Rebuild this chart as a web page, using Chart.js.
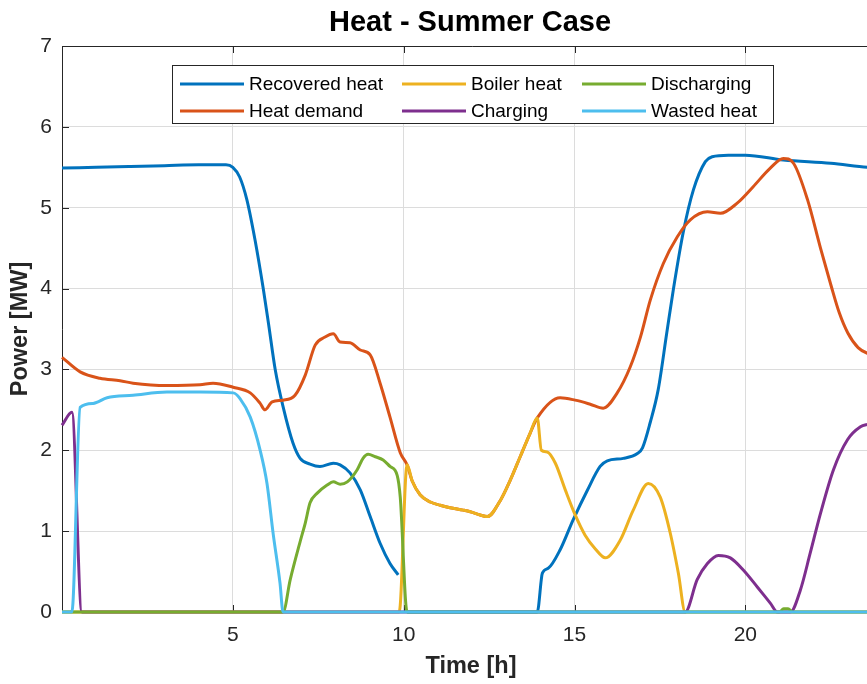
<!DOCTYPE html>
<html>
<head>
<meta charset="utf-8">
<title>Heat - Summer Case</title>
<script src="https://cdn.jsdelivr.net/npm/chart.js@4.4.1/dist/chart.umd.min.js"></script>
<style>
  html, body { margin: 0; padding: 0; background: #ffffff; overflow: hidden; }
  #wrap { position: absolute; left: 0; top: 0; width: 884px; height: 684px; }
</style>
</head>
<body>
<div id="wrap"><canvas id="chart" width="884" height="684"></canvas></div>
<script>
// Time axis ticks [h] and power axis ticks [MW]
const timeTicks = [5, 10, 15, 20];
const powerTicks = [0, 1, 2, 3, 4, 5, 6, 7];

// Recovered heat
const recoveredT = [0, 1, 2, 3, 4, 4.8, 5.0, 5.2, 5.41, 5.65, 5.89, 6.05, 6.24, 6.47, 6.76, 6.97, 7.26, 7.55, 7.94, 8.14, 8.43, 8.73, 9.02, 9.31, 9.60, 9.84,
  null,
  10.1, 12, 13.91, 14.06, 14.23, 14.58, 14.96, 15.37, 15.75, 15.96, 16.43, 16.84, 16.99, 17.22, 17.45, 17.70, 17.89, 18.18, 18.48, 18.83, 19.03, 19.5, 20, 21.11, 22.5, 23.57, 24];
const recoveredP = [5.49, 5.50, 5.51, 5.52, 5.53, 5.53, 5.50, 5.38, 5.10, 4.60, 4.00, 3.55, 3.00, 2.54, 2.09, 1.90, 1.83, 1.80, 1.84, 1.82, 1.72, 1.51, 1.18, 0.85, 0.60, 0.46,
  null,
  0, 0, 0, 0.48, 0.54, 0.77, 1.14, 1.50, 1.80, 1.87, 1.90, 1.96, 2.03, 2.35, 2.75, 3.45, 3.98, 4.69, 5.22, 5.57, 5.63, 5.65, 5.65, 5.59, 5.55, 5.50, 5.49];

// Heat demand
const demandT = [0, 0.53, 1.11, 1.70, 2.08, 3.07, 4.04, 4.42, 5.01, 5.51, 5.80, 5.94, 6.15, 6.47, 6.82, 7.12, 7.41, 7.70, 7.94, 8.14, 8.43, 8.73, 9.02, 9.31, 9.60, 9.90, 10.10,
  10.25, 10.48, 10.78, 11.07, 11.36, 11.74, 11.95, 12.24, 12.45, 12.83, 13.12, 13.41, 13.70, 13.91,
  14.58, 15.02, 15.46, 15.84, 16.25, 16.63, 16.93, 17.22, 17.60, 18.01, 18.39, 18.89, 19.27, 19.77, 20.23, 20.73, 21.11, 21.41, 21.82, 22.20, 22.50, 22.75, 23.00, 23.30, 23.57, 24];
const demandP = [3.15, 2.97, 2.89, 2.86, 2.83, 2.80, 2.81, 2.83, 2.78, 2.71, 2.58, 2.50, 2.60, 2.62, 2.68, 2.93, 3.30, 3.40, 3.44, 3.34, 3.33, 3.24, 3.18, 2.83, 2.41, 1.97, 1.82,
  1.62, 1.45, 1.36, 1.32, 1.29, 1.26, 1.24, 1.20, 1.18, 1.38, 1.63, 1.92, 2.21, 2.40,
  2.65, 2.62, 2.57, 2.52, 2.71, 3.03, 3.40, 3.86, 4.31, 4.64, 4.85, 4.95, 4.93, 5.06, 5.26, 5.49, 5.61, 5.55, 5.10, 4.50, 4.05, 3.70, 3.45, 3.27, 3.20, 3.17];

// Boiler heat
const boilerT = [0, 9.87, 10.10, 10.25, 10.48, 10.78, 11.07, 11.36, 11.74, 11.95, 12.24, 12.45, 12.83, 13.12, 13.41, 13.70, 13.91, 14.03, 14.20, 14.44, 14.73, 15.02, 15.31, 15.61, 15.90, 16.34, 16.72, 17.16, 17.51, 17.80, 18.04, 18.24, 24];
const boilerP = [0, 0, 1.82, 1.62, 1.45, 1.36, 1.32, 1.29, 1.26, 1.24, 1.20, 1.18, 1.38, 1.63, 1.92, 2.21, 2.40, 2.00, 1.98, 1.84, 1.51, 1.20, 0.95, 0.78, 0.67, 0.89, 1.26, 1.59, 1.42, 0.98, 0.48, 0, 0];

// Charging
const chargingT = [0, 0.29, 0.58, 18.24, 18.59, 18.89, 19.21, 19.56, 19.94, 20.35, 20.73, 20.94, 21.32, 21.61, 21.90, 22.20, 22.58, 22.99, 23.37, 23.57, 24];
const chargingP = [2.31, 2.47, 0, 0, 0.40, 0.60, 0.70, 0.67, 0.52, 0.31, 0.11, 0, 0, 0.27, 0.73, 1.22, 1.76, 2.13, 2.29, 2.32, 2.35];

// Discharging
const dischargingT = [0, 6.47, 6.68, 6.97, 7.12, 7.26, 7.47, 7.76, 7.94, 8.14, 8.35, 8.64, 8.81, 8.96, 9.17, 9.40, 9.60, 9.81, 9.90, 10.10, 21.0, 21.12, 21.25, 21.38, 24];
const dischargingP = [0, 0, 0.40, 0.87, 1.10, 1.35, 1.47, 1.57, 1.61, 1.58, 1.61, 1.76, 1.90, 1.95, 1.92, 1.88, 1.80, 1.69, 1.42, 0, 0, 0.04, 0.04, 0, 0];

// Wasted heat
const wastedT = [0, 0.29, 0.53, 0.91, 1.32, 2.08, 3.07, 4.04, 5.01, 5.21, 5.51, 5.80, 6.00, 6.18, 6.38, 6.47, 24];
const wastedP = [0, 0, 2.53, 2.58, 2.65, 2.68, 2.72, 2.72, 2.71, 2.64, 2.41, 2.00, 1.59, 0.97, 0.36, 0, 0];

const seriesNames = ['Recovered heat', 'Heat demand', 'Boiler heat', 'Charging', 'Discharging', 'Wasted heat'];
const seriesColors = ['#0072BD', '#D95319', '#EDB120', '#7E2F8E', '#77AC30', '#4DBEEE'];
const seriesData = [
  [recoveredT, recoveredP],
  [demandT, demandP],
  [boilerT, boilerP],
  [chargingT, chargingP],
  [dischargingT, dischargingP],
  [wastedT, wastedP]
];

const FONT = '"Liberation Sans", Arial, Helvetica, sans-serif';
const INK = '#262626';

function toPoints(ts, vs) {
  return ts.map((t, i) => ({ x: t === null ? NaN : t, y: vs[i] }));
}

const datasets = seriesData.map((pair, i) => ({
  label: seriesNames[i],
  data: toPoints(pair[0], pair[1]),
  borderColor: seriesColors[i],
  backgroundColor: seriesColors[i],
  borderWidth: 3,
  pointRadius: 0,
  fill: false,
  spanGaps: false,
  clip: 4,
  cubicInterpolationMode: 'monotone',
  order: seriesData.length - 1 - i   // later series are painted on top
}));

// Axes box with inward tick marks (drawn under the lines)
const axesBox = {
  id: 'axesBox',
  beforeDatasetsDraw(chart) {
    const { ctx, chartArea: a, scales } = chart;
    ctx.save();
    ctx.strokeStyle = INK;
    ctx.lineWidth = 1;
    ctx.beginPath();
    ctx.moveTo(a.left + 0.5, a.top + 0.5);
    ctx.lineTo(a.right, a.top + 0.5);
    ctx.moveTo(a.left + 0.5, a.top);
    ctx.lineTo(a.left + 0.5, a.bottom + 0.5);
    ctx.lineTo(a.right, a.bottom + 0.5);
    const tl = 7;
    timeTicks.forEach(v => {
      const x = Math.round(scales.x.getPixelForValue(v)) + 0.5;
      ctx.moveTo(x, a.bottom); ctx.lineTo(x, a.bottom - tl);
      ctx.moveTo(x, a.top); ctx.lineTo(x, a.top + tl);
    });
    powerTicks.forEach(v => {
      const y = Math.round(scales.y.getPixelForValue(v)) + 0.5;
      ctx.moveTo(a.left, y); ctx.lineTo(a.left + tl, y);
    });
    ctx.stroke();
    ctx.restore();
  }
};

// Title, axis titles and the two-row legend
const decorations = {
  id: 'decorations',
  afterDraw(chart) {
    const { ctx, chartArea: a } = chart;
    const cx = (a.left + a.right) / 2;
    ctx.save();
    ctx.fillStyle = '#000000';
    ctx.textAlign = 'center';
    ctx.textBaseline = 'middle';
    ctx.font = 'bold 29px ' + FONT;
    ctx.fillText('Heat - Summer Case', cx - 2, 23);

    ctx.fillStyle = INK;
    ctx.font = 'bold 23.5px ' + FONT;
    ctx.fillText('Time [h]', cx - 1, 667);
    ctx.save();
    ctx.translate(21, (a.top + a.bottom) / 2);
    ctx.rotate(-Math.PI / 2);
    ctx.fillText('Power [MW]', 0, 0);
    ctx.restore();

    // legend
    const box = { x: 172, y: 65, w: 601, h: 58 };
    ctx.fillStyle = '#ffffff';
    ctx.fillRect(box.x, box.y, box.w, box.h);
    ctx.strokeStyle = INK;
    ctx.lineWidth = 1;
    ctx.strokeRect(box.x + 0.5, box.y + 0.5, box.w, box.h);
    const colX = [180, 402, 582];
    const rowY = [84, 111];
    const layout = [0, 2, 4, 1, 3, 5]; // row-major placement of series
    ctx.font = '19px ' + FONT;
    ctx.textAlign = 'left';
    ctx.textBaseline = 'middle';
    layout.forEach((si, k) => {
      const r = Math.floor(k / 3), c = k % 3;
      const x = colX[c], y = rowY[r];
      ctx.strokeStyle = seriesColors[si];
      ctx.lineWidth = 3;
      ctx.beginPath();
      ctx.moveTo(x, y); ctx.lineTo(x + 64, y);
      ctx.stroke();
      ctx.fillStyle = '#000000';
      ctx.fillText(seriesNames[si], x + 69, y + 1);
    });
    ctx.restore();
  }
};

new Chart(document.getElementById('chart'), {
  type: 'line',
  data: { datasets },
  plugins: [axesBox, decorations],
  options: {
    responsive: false,
    animation: false,
    devicePixelRatio: 1,
    layout: { padding: { left: 0, top: 46, right: 2, bottom: 0 } },
    plugins: {
      legend: { display: false },
      title: { display: false },
      tooltip: { enabled: false }
    },
    scales: {
      x: {
        type: 'linear',
        min: 0,
        max: 24,
        afterBuildTicks(scale) { scale.ticks = timeTicks.map(v => ({ value: v })); },
        afterFit(scale) { scale.height = 72; },
        grid: { color: '#dcdcdc', lineWidth: 1, drawTicks: false },
        border: { display: false },
        ticks: {
          color: INK,
          font: { family: FONT, size: 21 },
          padding: 11,
          maxRotation: 0,
          autoSkip: false
        }
      },
      y: {
        type: 'linear',
        min: 0,
        max: 7,
        afterBuildTicks(scale) { scale.ticks = powerTicks.map(v => ({ value: v })); },
        afterFit(scale) { scale.width = 62; },
        grid: { color: '#dcdcdc', lineWidth: 1, drawTicks: false },
        border: { display: false },
        ticks: {
          color: INK,
          font: { family: FONT, size: 21 },
          padding: 10,
          autoSkip: false
        }
      }
    }
  }
});
</script>
</body>
</html>
